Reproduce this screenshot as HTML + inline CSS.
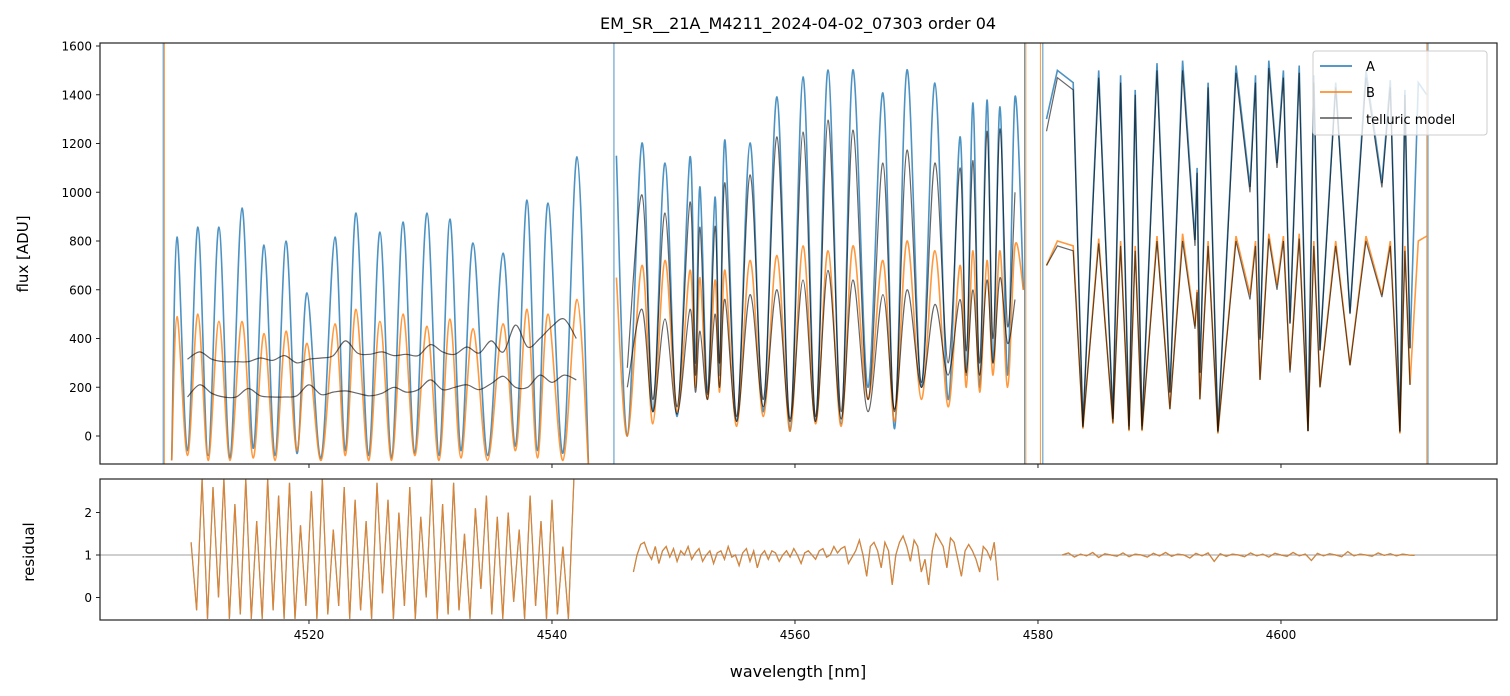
<!DOCTYPE html>
<html><head><meta charset="utf-8"><style>
html,body{margin:0;padding:0;background:#fff;}
svg{display:block;font-family:"DejaVu Sans","Liberation Sans",sans-serif;}
</style></head><body>
<svg id="chart" width="1510" height="696" viewBox="0 0 1510 696" xmlns="http://www.w3.org/2000/svg">
<defs>
<clipPath id="clipTop"><rect x="100" y="43" width="1397" height="421"/></clipPath>
<clipPath id="clipBot"><rect x="100" y="479" width="1397" height="141"/></clipPath>
</defs>
<rect width="1510" height="696" fill="#fff"/>
<text x="798" y="29" text-anchor="middle" font-size="16">EM_SR__21A_M4211_2024-04-02_07303  order 04</text>
<g id="topData" clip-path="url(#clipTop)"></g>
<g id="botData" clip-path="url(#clipBot)"></g>
<g id="axes"></g>
<g>
<rect x="1313" y="51" width="174" height="84" rx="3" fill="#fff" fill-opacity="0.8" stroke="#ccc"/>
<line x1="1320" y1="66" x2="1352" y2="66" stroke="#1f77b4" stroke-width="1.5"/>
<text x="1366" y="71" font-size="13">A</text>
<line x1="1320" y1="92" x2="1352" y2="92" stroke="#ff7f0e" stroke-width="1.5"/>
<text x="1366" y="97" font-size="13">B</text>
<line x1="1320" y1="118" x2="1352" y2="118" stroke="#555" stroke-width="1.5"/>
<text x="1366" y="124" font-size="13">telluric model</text>
</g>
<text x="28" y="254" font-size="15" text-anchor="middle" transform="rotate(-90 28 254)">flux [ADU]</text>
<text x="34" y="552" font-size="15" text-anchor="middle" transform="rotate(-90 34 552)">residual</text>
<text x="798" y="677" font-size="16" text-anchor="middle">wavelength [nm]</text>
</svg>
<script>
const xTicks=[4520,4540,4560,4580,4600];
const yTicksTop=[0,200,400,600,800,1000,1200,1400,1600];
const yTicksBot=[0,1,2];
// segment 1
const wl1=[4508.7,4509.14,4510.0,4510.86,4511.7,4512.59,4513.5,4514.49,4515.4,4516.30,4517.2,4518.11,4519.0,4519.84,4521.0,4522.14,4523.0,4523.87,4524.9,4525.84,4526.8,4527.74,4528.7,4529.71,4530.7,4531.60,4532.5,4533.50,4534.7,4535.97,4537.0,4537.94,4538.8,4539.67,4540.9,4542.06,4543.0];
const fluxA1=[-100,816,-60,857,-80,857,-90,935,-50,783,-80,800,-70,587,-90,816,-60,915,-80,837,-90,878,-70,915,-80,890,-60,792,-80,750,-40,968,-60,956,-70,1145,-110];
const fluxB1=[-100,490,-80,500,-100,470,-100,470,-90,420,-100,430,-60,380,-100,460,-80,520,-100,470,-100,500,-80,450,-100,480,-90,440,-100,460,-60,520,-90,500,-100,560,-120];
const wlModel1Start=4510, wlModel1Step=1;
const modelUpper1=[315,345,315,305,305,305,320,310,330,300,315,320,330,390,340,335,345,330,335,330,375,345,335,365,340,390,345,455,365,400,450,480,400];
const modelLower1=[160,210,175,160,160,195,165,160,160,165,210,170,180,185,175,165,175,200,180,190,230,190,200,210,190,215,245,200,200,250,220,250,230];
// segment 2
const wl2=[4545.3,4546.2,4547.41,4548.3,4549.3,4550.3,4551.36,4551.8,4552.18,4552.8,4553.42,4553.8,4554.24,4555.2,4556.3,4557.4,4558.52,4559.6,4560.66,4561.7,4562.72,4563.8,4564.77,4566.0,4567.24,4568.2,4569.22,4570.4,4571.52,4572.6,4573.58,4574.1,4574.65,4575.2,4575.8,4576.3,4576.87,4577.5,4578.11,4578.8];
const fluxA2=[1150,0,1202,100,1120,80,1145,300,1022,180,980,250,1214,60,1202,100,1391,20,1473,60,1502,50,1502,200,1407,30,1502,200,1448,150,1227,250,1366,200,1378,300,1350,250,1391,600];
const fluxB2=[650,0,700,50,720,100,680,200,650,150,640,180,680,40,720,80,740,20,780,50,760,40,780,150,720,60,800,150,760,120,700,200,760,180,720,250,760,200,780,600];
const modelUpper2=[null,280,989,150,915,120,960,250,857,170,860,300,1038,80,1071,150,1227,70,1247,80,1296,100,1255,150,1120,100,1173,220,1120,300,1100,350,1130,300,1250,400,1260,450,1000,null];
const modelLower2=[null,200,520,100,480,90,520,180,430,150,500,200,560,60,580,120,600,60,640,60,680,70,640,100,580,110,600,200,540,250,560,260,600,250,640,300,650,380,560,null];
// segment 3
const wl3=[4580.7,4581.6,4582.9,4583.70,4585.0,4586.17,4586.8,4587.49,4588.0,4588.56,4589.8,4590.86,4591.9,4592.92,4593.1,4593.33,4594.0,4594.81,4596.3,4597.45,4597.9,4598.27,4599.0,4599.67,4600.2,4600.74,4601.5,4602.22,4602.7,4603.21,4604.5,4605.68,4607.0,4608.31,4609.0,4609.79,4610.2,4610.62,4611.3,4612.0];
const fluxA3=[1300,1500,1450,37,1500,70,1480,30,1420,30,1530,176,1540,804,1100,258,1450,20,1520,1022,1480,394,1540,1120,1500,464,1520,20,1480,353,1450,505,1500,1038,1460,20,1420,360,1450,1400];
const fluxB3=[700,800,780,30,810,50,800,20,780,20,820,110,830,450,600,150,800,10,820,580,800,230,830,620,820,270,830,20,800,200,800,290,820,580,800,10,780,210,800,820];
const modelUpper3=[1250,1470,1420,40,1470,70,1450,40,1400,40,1500,180,1500,780,1080,260,1430,20,1490,1000,1450,400,1510,1100,1470,460,1490,20,1450,350,1430,500,1470,1020,1430,20,1400,360,null,null];
const modelLower3=[700,780,760,35,790,55,780,25,760,25,800,110,800,440,590,150,780,15,800,560,780,230,810,600,800,260,810,20,780,200,780,290,800,570,780,15,760,210,null,null];
// residuals
const res1Start=4510.3, res1Step=0.45;
const residualA1=[1.3,-0.3,2.8,-0.5,2.6,0.0,2.8,-0.5,2.2,-0.4,2.8,-0.5,1.8,-0.5,2.8,-0.3,2.4,-0.5,2.7,-0.5,1.7,-0.2,2.5,-0.5,2.8,-0.4,1.6,-0.2,2.6,-0.5,2.3,-0.3,1.8,-0.5,2.7,0.1,2.3,-0.5,2.0,-0.2,2.6,-0.5,1.9,0.0,2.8,-0.5,2.2,-0.4,2.7,-0.3,1.5,-0.5,2.1,0.2,2.4,-0.4,1.9,-0.5,2.0,-0.1,1.6,-0.5,2.4,-0.2,1.8,-0.5,2.3,-0.4,1.2,-0.5,2.8];
const res2Start=4546.7, res2Step=0.3;
const residualA2=[0.6,1.0,1.25,1.3,1.05,0.9,1.2,0.8,1.1,1.2,0.95,1.15,0.85,1.1,1.0,1.2,0.9,1.05,1.15,0.85,1.0,1.1,0.8,1.05,1.1,0.9,1.2,0.95,1.0,0.75,1.05,1.15,0.85,1.1,0.7,1.0,1.1,0.9,1.1,1.05,0.85,1.0,1.1,0.95,1.15,1.0,0.8,1.05,1.1,1.0,0.9,1.1,1.15,0.95,1.0,1.2,1.05,1.15,1.2,0.8,0.95,1.1,1.35,1.0,0.5,1.2,1.3,1.1,0.7,1.3,1.1,0.3,1.0,1.3,1.45,1.2,0.85,1.35,1.2,0.6,0.9,0.3,1.1,1.5,1.35,1.2,0.7,1.4,1.3,0.9,0.5,1.1,1.25,1.1,0.9,0.6,1.2,1.1,0.9,1.3,0.4];
const res3Start=4582, res3Step=0.5;
const residualA3=[1.0,1.05,0.95,1.02,0.98,1.06,0.94,1.03,1.0,0.97,1.05,0.96,1.02,1.0,0.95,1.04,0.98,1.06,0.97,1.02,1.0,0.93,1.04,0.98,1.05,0.85,1.03,0.97,1.02,1.0,0.96,1.05,0.98,1.02,0.95,1.04,1.0,0.97,1.06,0.98,1.02,0.87,1.04,0.98,1.03,1.0,0.96,1.08,0.98,1.02,1.0,0.97,1.05,0.99,1.03,0.98,1.02,1.0,0.99];
const spikesA=[4508.0,4545.1,4578.9,4580.4,4612.1];
const spikesB=[4508.1,4579.0,4580.2,4612.0];

const X=w=>100+(w-4502.8)*12.15;
const YT=v=>436-v*0.24375;
const YB=v=>555-(v-1)*42.5;
const NS="http://www.w3.org/2000/svg";
const topG=document.getElementById('topData');
const botG=document.getElementById('botData');
const axG=document.getElementById('axes');
function mk(tag,attrs,parent){const e=document.createElementNS(NS,tag);for(const k in attrs)e.setAttribute(k,attrs[k]);parent.appendChild(e);return e;}
function xy(wl,vals,yf){const p=[];for(let i=0;i<vals.length;i++){if(vals[i]===null)continue;p.push([X(wl[i]),yf(vals[i])]);}return p;}
function smoothPath(p){if(!p.length)return '';let d='M'+p[0][0].toFixed(1)+','+p[0][1].toFixed(1);
  for(let i=0;i<p.length-1;i++){const p0=p[i-1]||p[i],p1=p[i],p2=p[i+1],p3=p[i+2]||p2;
    const c1=[p1[0]+(p2[0]-p0[0])/6,p1[1]+(p2[1]-p0[1])/6],c2=[p2[0]-(p3[0]-p1[0])/6,p2[1]-(p3[1]-p1[1])/6];
    d+=' C'+c1[0].toFixed(1)+','+c1[1].toFixed(1)+' '+c2[0].toFixed(1)+','+c2[1].toFixed(1)+' '+p2[0].toFixed(1)+','+p2[1].toFixed(1);}
  return d;}
function linePath(p){return p.map((q,i)=>(i?'L':'M')+q[0].toFixed(1)+','+q[1].toFixed(1)).join(' ');}
function grid(start,step,n){const a=[];for(let i=0;i<n;i++)a.push(start+i*step);return a;}
const cA='#1f77b4',cB='#ff7f0e';
[[wl1,fluxA1,1],[wl2,fluxA2,1],[wl3,fluxA3,0]].forEach((s,i)=>{
  const p=xy(s[0],s[1],YT);
  const e=mk('path',{d:s[2]?smoothPath(p):linePath(p),fill:'none',stroke:cA,'stroke-width':1.6,'stroke-opacity':0.8},topG);
  
  
});
[[wl1,fluxB1,1],[wl2,fluxB2,1],[wl3,fluxB3,0]].forEach((s,i)=>{
  const p=xy(s[0],s[1],YT);
  const e=mk('path',{d:s[2]?smoothPath(p):linePath(p),fill:'none',stroke:cB,'stroke-width':1.6,'stroke-opacity':0.8},topG);
  
  
});
const wlM1=grid(wlModel1Start,wlModel1Step,modelUpper1.length);
[[wlM1,modelUpper1,1],[wlM1,modelLower1,1],[wl2,modelUpper2,1],[wl2,modelLower2,1],[wl3,modelUpper3,0],[wl3,modelLower3,0]].forEach((s,i)=>{
  const p=xy(s[0],s[1],YT);
  const e=mk('path',{d:s[2]?smoothPath(p):linePath(p),fill:'none',stroke:'#000','stroke-width':1.2,'stroke-opacity':0.6},topG);
  
  
});
spikesA.forEach(w=>{const l=mk('line',{x1:X(w),x2:X(w),y1:43,y2:464,stroke:cA,'stroke-width':1,'stroke-opacity':0.8},topG);
  
  });
spikesB.forEach(w=>{const l=mk('line',{x1:X(w),x2:X(w),y1:43,y2:464,stroke:cB,'stroke-width':1,'stroke-opacity':0.8},topG);
  
  });
const ref=mk('line',{x1:100,x2:1497,y1:YB(1),y2:YB(1),stroke:'#000','stroke-width':0.8,'stroke-opacity':0.5},botG);


[[res1Start,res1Step,residualA1],[res2Start,res2Step,residualA2],[res3Start,res3Step,residualA3]].forEach((s,i)=>{
  const wl=grid(s[0],s[1],s[2].length);
  const p=xy(wl,s[2],YB);
  const pa=mk('path',{d:linePath(p),fill:'none',stroke:cA,'stroke-width':1.2,'stroke-opacity':0.8},botG);
  
  
  const pb=mk('path',{d:linePath(p),fill:'none',stroke:cB,'stroke-width':1.2,'stroke-opacity':0.8},botG);
  
  
});
const f1=mk('rect',{x:100,y:43,width:1397,height:421,fill:'none',stroke:'#222','stroke-width':1.2},axG);


const f2=mk('rect',{x:100,y:479,width:1397,height:141,fill:'none',stroke:'#222','stroke-width':1.2},axG);


yTicksTop.forEach(v=>{
  mk('line',{x1:96,x2:100,y1:YT(v),y2:YT(v),stroke:'#222'},axG);
  const t=mk('text',{x:92,y:YT(v)+4.5,'text-anchor':'end','font-size':12},axG);
  t.textContent=v;
  
  
});
yTicksBot.forEach(v=>{
  mk('line',{x1:96,x2:100,y1:YB(v),y2:YB(v),stroke:'#222'},axG);
  const t=mk('text',{x:92,y:YB(v)+4.5,'text-anchor':'end','font-size':12},axG);
  t.textContent=v;
  
  
});
xTicks.forEach(v=>{
  mk('line',{x1:X(v),x2:X(v),y1:464,y2:468,stroke:'#222'},axG);
  mk('line',{x1:X(v),x2:X(v),y1:620,y2:624,stroke:'#222'},axG);
  const t=mk('text',{x:X(v),y:639,'text-anchor':'middle','font-size':12},axG);
  t.textContent=v;
  
  
});
</script>
</body></html>
